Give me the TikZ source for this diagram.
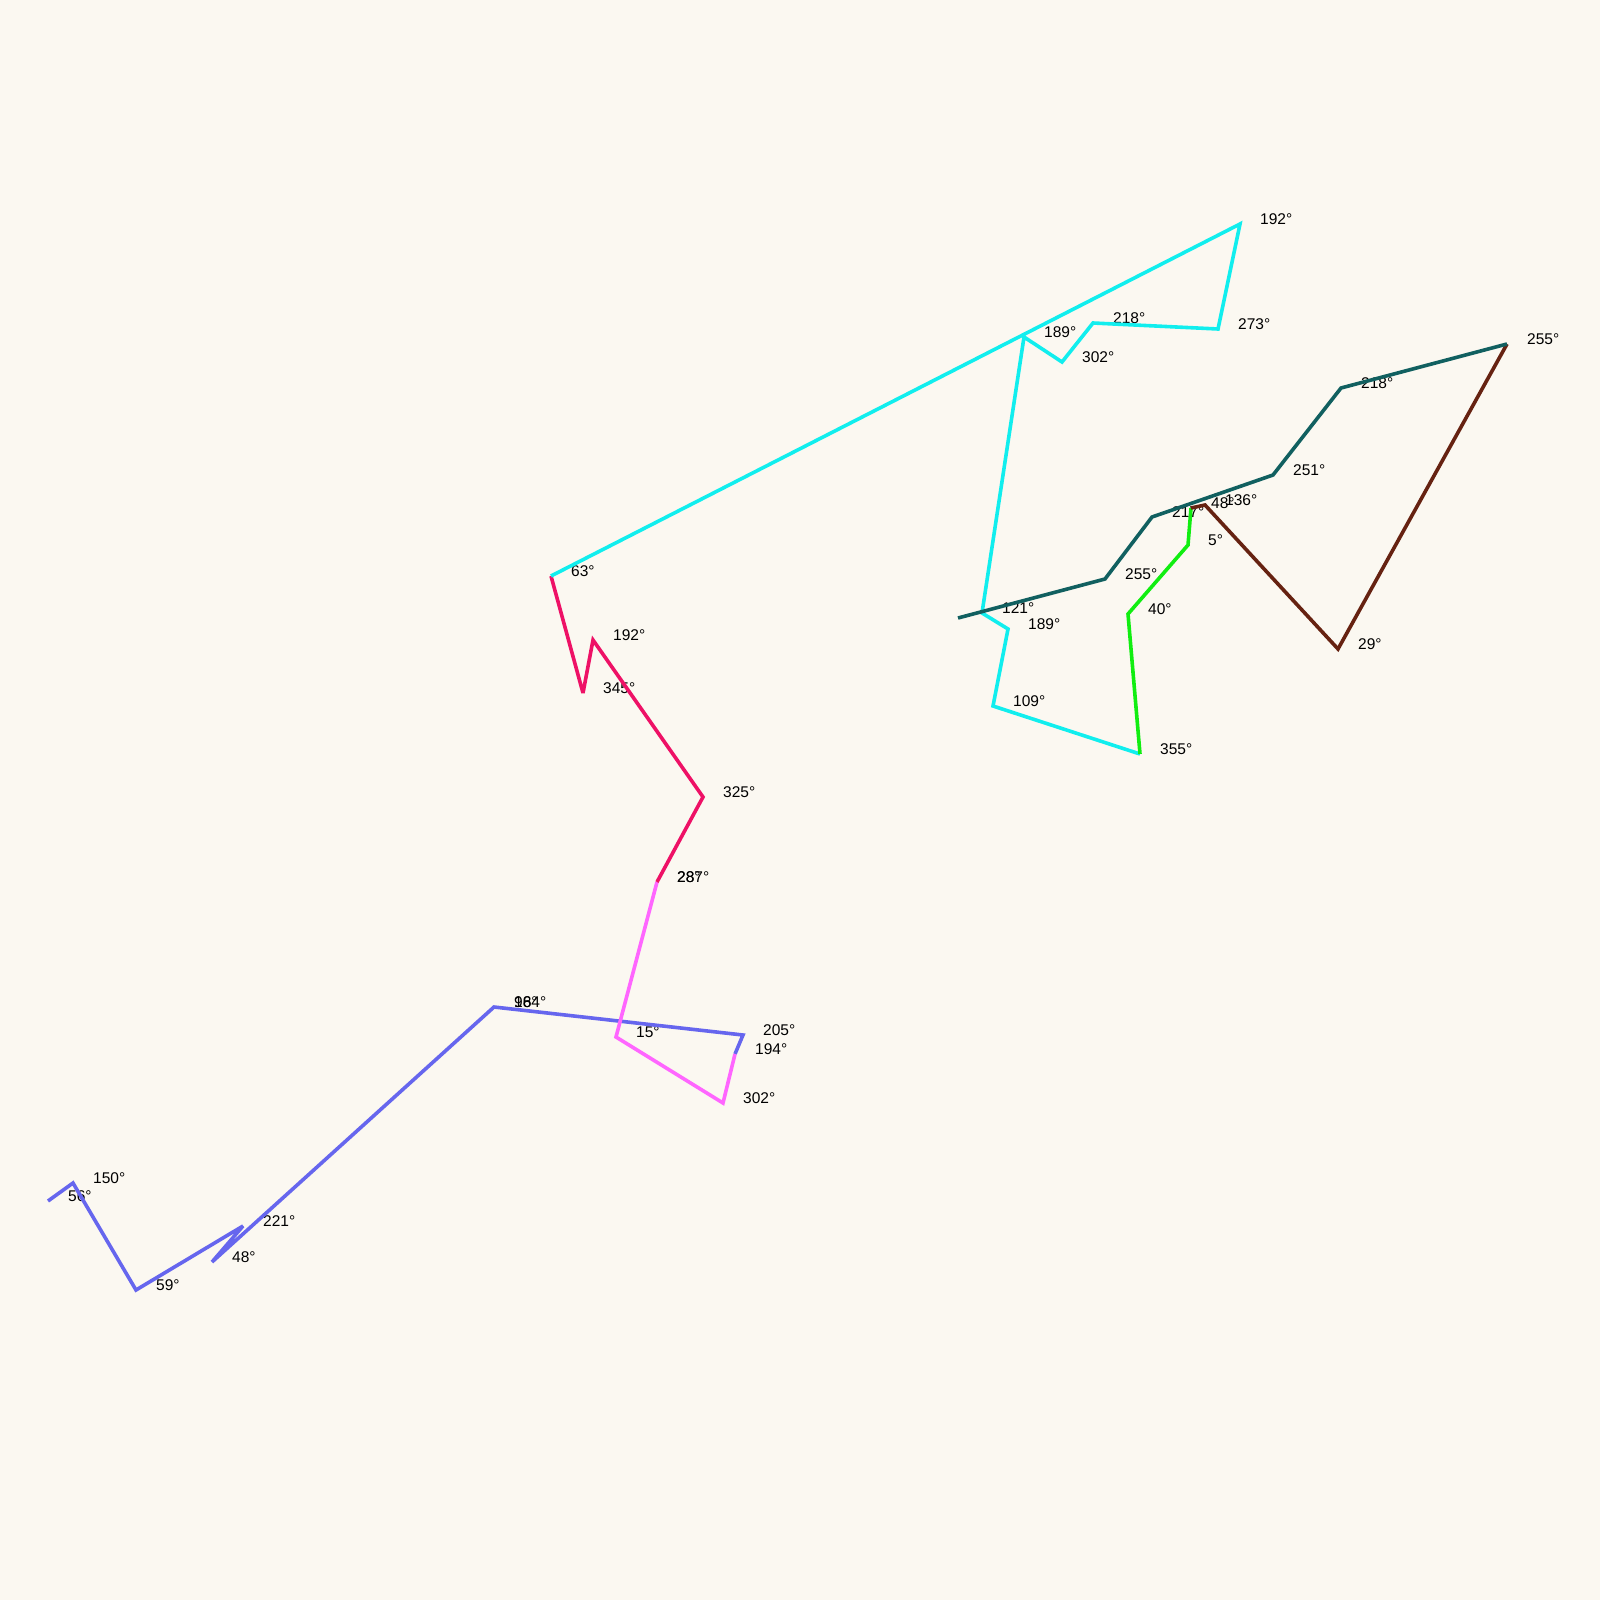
\documentclass[tikz,border=0pt]{standalone}
\usepackage{fontspec}
\setmainfont{Liberation Sans}
\usepackage{tikz}
\usetikzlibrary{calc}

\definecolor{paper}{HTML}{FBF8F1}
\definecolor{trailblue}{HTML}{6666EE}
\definecolor{trailpink}{HTML}{FF66FF}
\definecolor{trailred}{HTML}{EE1166}
\definecolor{trailcyan}{HTML}{11EEEE}
\definecolor{trailgreen}{HTML}{11EE11}
\definecolor{trailbrown}{HTML}{662211}
\definecolor{trailteal}{HTML}{116060}

\begin{document}
\begin{tikzpicture}[x=1pt,y=-1pt,
  trail/.style={line width=3.6pt,miter limit=4},
  deg/.style={anchor=base west,inner sep=0pt,font=\fontsize{15.5}{18}\selectfont}]
\fill[paper] (0,0) rectangle (1600,1600);
\foreach \p/\x/\y/\ang in {b1/48/1201/56,b2/73/1183/150,b3/136/1290/59,b4/243/1226/221,
  b5/212/1262/48,b6/494/1007/96,b7/494/1007/184,b8/743/1035/205,b9/735/1054/194,
  p1/723/1103/302,p2/616/1037/15,p3/657/882/287,p4/657/882/28,
  r1/703/797/325,r2/593/640/192,r3/583/693/345,r4/551/576/63,
  c1/1240/224/192,c2/1218/329/273,c3/1093/323/218,c4/1062/362/302,c5/1024/337/189,
  c6/982/613/121,c7/1008/629/189,c8/993/706/109,c9/1140/754/355,
  g1/1128/614/40,g2/1188/545/5,g3/1191/508/48,
  w1/1205/505/136,w2/1338/649/29,w3/1507/344/255,
  t1/1341/388/218,t2/1273/475/251,t3/1152/517/217,t4/1105/579/255} {
  \coordinate (\p) at (\x,\y);
  \node[deg] (l\p) at ([xshift=20pt]\p) {{\ang}°};
}
\coordinate (t5) at (958,618);
\draw[trail,trailblue] (b1) -- (b2) -- (b3) -- (b4) -- (b5) -- (b6) -- (b8) -- (b9);
\draw[trail,trailpink] (b9) -- (p1) -- (p2) -- (p3);
\draw[trail,trailred] (p3) -- (r1) -- (r2) -- (r3) -- (r4);
\draw[trail,trailcyan] (r4) -- (c1) -- (c2) -- (c3) -- (c4) -- (c5) -- (c6) -- (c7) -- (c8) -- (c9);
\draw[trail,trailgreen] (c9) -- (g1) -- (g2) -- (g3);
\draw[trail,trailbrown] (g3) -- (w1) -- (w2) -- (w3);
\draw[trail,trailteal] (w3) -- (t1) -- (t2) -- (t3) -- (t4) -- (t5);
\end{tikzpicture}
\end{document}
